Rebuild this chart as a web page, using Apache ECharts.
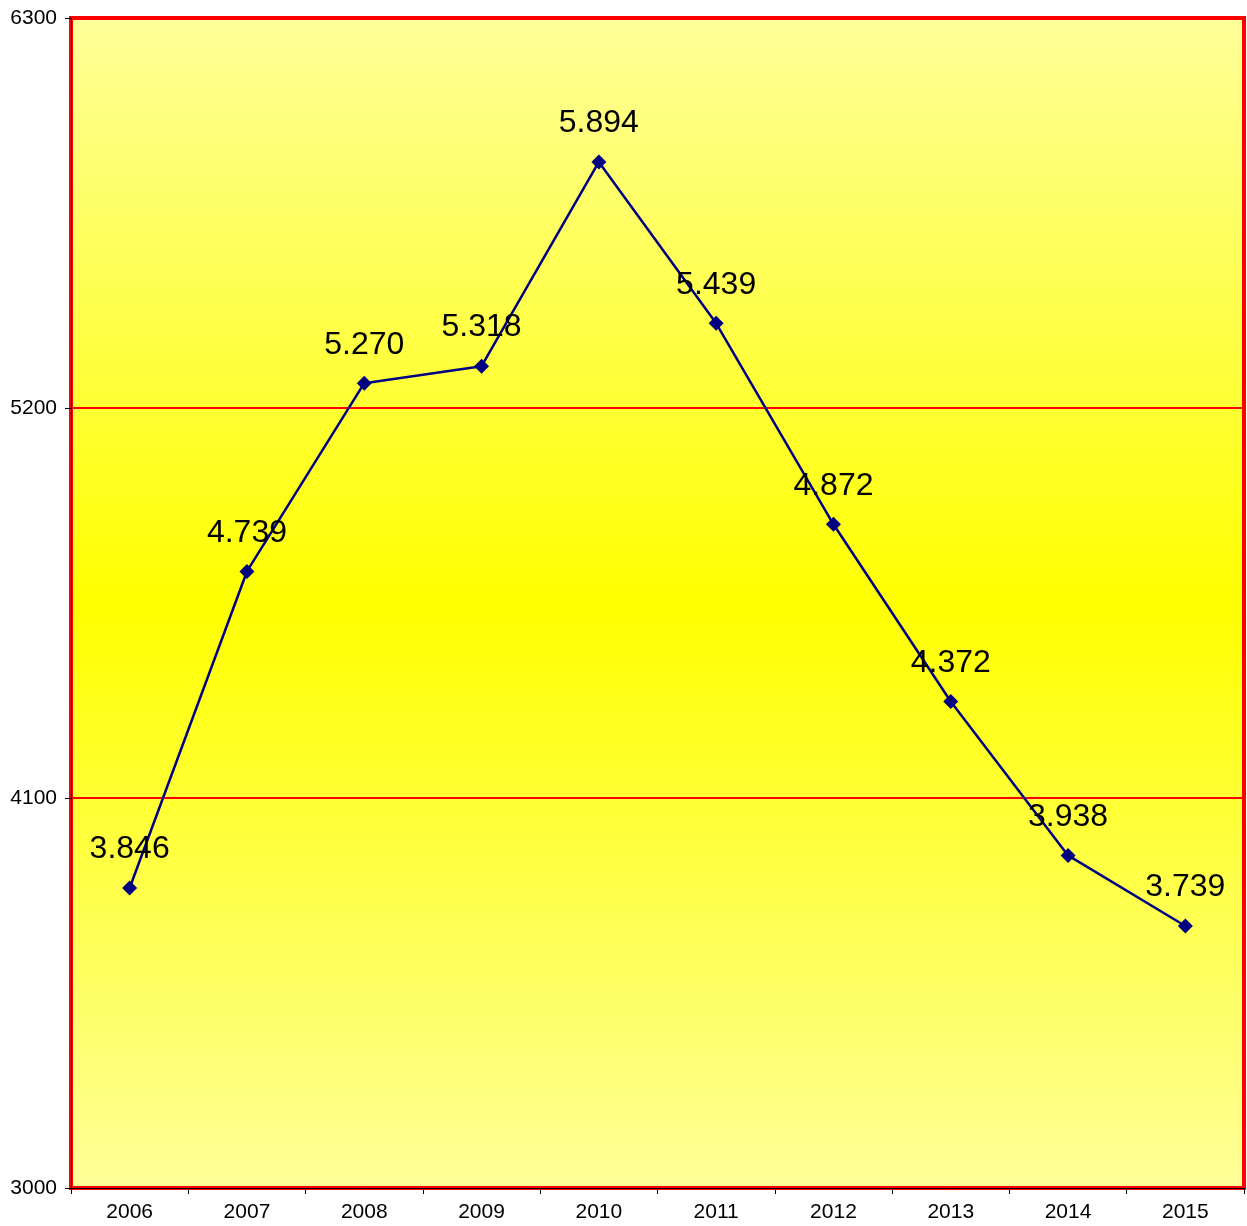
<!DOCTYPE html>
<html>
<head>
<meta charset="utf-8">
<script src="https://cdn.jsdelivr.net/npm/echarts@6/dist/echarts.min.js"></script>
<style>
  html, body { margin: 0; padding: 0; background: #fff; }
  #chart { width: 1247px; height: 1226px; }
</style>
</head>
<body>
<div id="chart"></div>
<script>
  // data
  var years = ['2006', '2007', '2008', '2009', '2010', '2011', '2012', '2013', '2014', '2015'];
  var values = [3846, 4739, 5270, 5318, 5894, 5439, 4872, 4372, 3938, 3739];
  var yTicks = [3000, 4100, 5200, 6300];

  var chart = echarts.init(document.getElementById('chart'));

  function dotted(v) {
    var s = String(v);
    return s.length > 3 ? s.slice(0, s.length - 3) + '.' + s.slice(-3) : s;
  }

  var option = {
    animation: false,
    grid: {
      left: 71, right: 3, top: 18, bottom: 38,
      show: true,
      borderColor: '#ff0000',
      borderWidth: 4,
      backgroundColor: new echarts.graphic.LinearGradient(0, 0, 0, 1, [
        { offset: 0, color: '#ffff99' },
        { offset: 0.5, color: '#ffff00' },
        { offset: 1, color: '#ffff99' }
      ])
    },
    xAxis: {
      type: 'category',
      data: years,
      boundaryGap: true,
      axisLine: { lineStyle: { color: '#000', width: 1 } },
      axisTick: { show: true, length: 6, lineStyle: { color: '#000' } },
      axisLabel: { color: '#000', fontFamily: 'Liberation Sans, Arial', fontSize: 21, margin: 14 },
      splitLine: { show: false }
    },
    yAxis: {
      type: 'value',
      min: yTicks[0],
      max: yTicks[yTicks.length - 1],
      interval: yTicks[1] - yTicks[0],
      axisLine: { show: true, lineStyle: { color: '#000', width: 1 } },
      axisTick: { show: true, length: 6, lineStyle: { color: '#000' } },
      axisLabel: {
        color: '#000', fontFamily: 'Liberation Sans, Arial', fontSize: 21, margin: 14,
        formatter: function (v) { return String(v); }
      },
      splitLine: { show: true, lineStyle: { color: '#ff0000', width: 2 } }
    },
    series: [{
      type: 'line',
      data: values,
      symbol: 'diamond',
      symbolSize: 15,
      lineStyle: { color: '#000080', width: 2.5 },
      itemStyle: { color: '#000080' },
      label: {
        show: true,
        position: 'top',
        distance: 15,
        color: '#000',
        fontFamily: 'Liberation Sans, Arial',
        fontSize: 32,
        formatter: function (p) { return dotted(p.value); }
      }
    }]
  };

  chart.setOption(option);
</script>
</body>
</html>
